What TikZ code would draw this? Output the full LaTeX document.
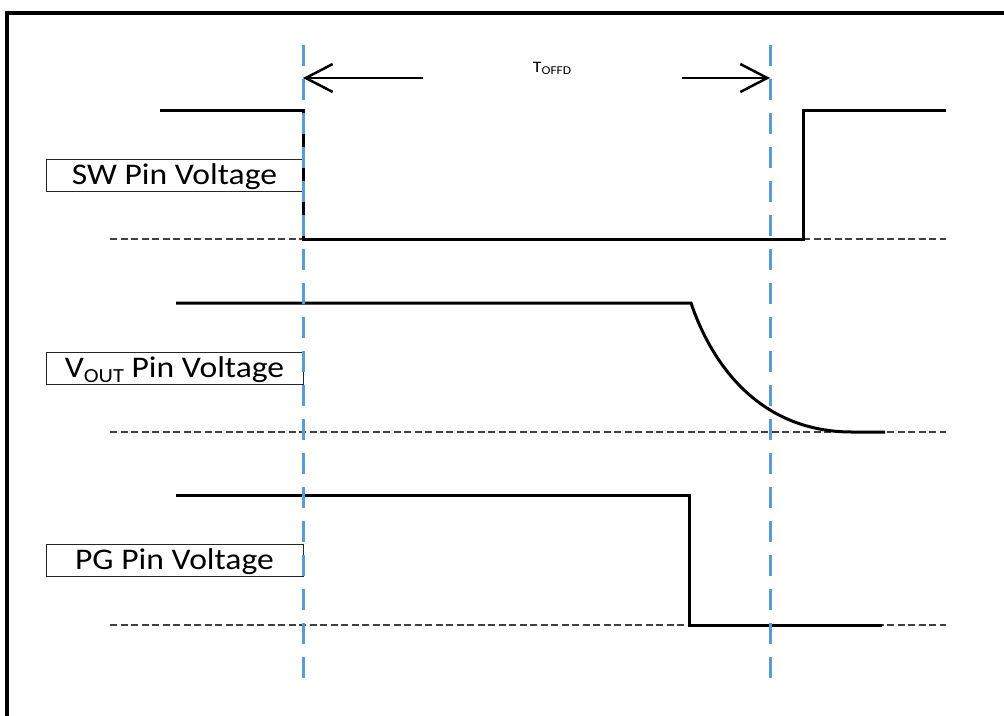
\documentclass[tikz,border=0pt]{standalone}
\usepackage{fontspec}
\setmainfont{Carlito}[FakeStretch=1.12]
\usetikzlibrary{arrows.meta}
\definecolor{mblue}{RGB}{91,155,213}
\begin{document}
\begin{tikzpicture}[x=1pt,y=-1pt,
  signal/.style={line width=3pt, line join=miter},
  zeroline/.style={line width=1.2pt, draw=black!75, dash pattern=on 7pt off 3.5pt},
  marker/.style={line width=3pt, draw=mblue, dash pattern=on 21pt off 13pt},
  lblbox/.style={draw=black!85, line width=1pt, minimum width=257pt, minimum height=32pt,
    inner sep=0pt, text height=19.5pt, text depth=0pt, font=\fontsize{30}{36}\selectfont},
  dimarrow/.style={line width=2.5pt, -{Straight Barb[length=27pt,width=28pt]}},
  frameline/.style={line width=3.5pt}
]
\useasboundingbox (0,0) rectangle (1004,715);

% zero lines
\coordinate (z1a) at (110,239); \coordinate (z1b) at (946,239);
\coordinate (z2a) at (110,432); \coordinate (z2b) at (946,432);
\coordinate (z3a) at (110,625); \coordinate (z3b) at (946,625);
\draw[zeroline] (z1a) -- (z1b);
\draw[zeroline] (z2a) -- (z2b);
\draw[zeroline] (z3a) -- (z3b);

% label boxes
\node[lblbox] (swlbl) at (174.5,175) {SW Pin Voltage};
\node[lblbox] (voutlbl) at (174.5,368) {V\raisebox{-5pt}{\fontsize{20}{24}\selectfont OUT} Pin Voltage};
\node[lblbox] (pglbl) at (174.5,560) {PG Pin Voltage};

% SW signal
\coordinate (sw0) at (160,110); \coordinate (sw1) at (303,110);
\coordinate (sw2) at (303,239); \coordinate (sw3) at (803,239);
\coordinate (sw4) at (803,110); \coordinate (sw5) at (946,110);
\draw[signal] (sw0) -- (sw1) -- (sw2) -- (sw3) -- (sw4) -- (sw5);

% VOUT signal
\coordinate (vo0) at (176,303); \coordinate (vo1) at (691,303);
\coordinate (vo2) at (852,432); \coordinate (vo3) at (885,432);
\draw[signal] (vo0) -- (vo1) .. controls (712,365) and (760,432) .. (vo2) -- (vo3);

% PG signal
\coordinate (pg0) at (176,495); \coordinate (pg1) at (689,495);
\coordinate (pg2) at (689,625); \coordinate (pg3) at (882,625);
\draw[signal] (pg0) -- (pg1) -- (pg2) -- (pg3);

% blue markers
\coordinate (m1t) at (303,45); \coordinate (m1b) at (303,679);
\coordinate (m2t) at (770,45); \coordinate (m2b) at (770,679);
\draw[marker] (m1t) -- (m1b);
\draw[marker] (m2t) -- (m2b);

% dimension arrow
\coordinate (a1) at (303,78); \coordinate (a2) at (770,78);
\coordinate (g1) at (423,78); \coordinate (g2) at (682,78);
\draw[dimarrow] (g1) -- (a1);
\draw[dimarrow] (g2) -- (a2);
\node[anchor=base, inner sep=0pt, font=\fontsize{16}{18}\selectfont] (toffd) at (552,72)
  {T\raisebox{-2.3pt}{\fontsize{12}{14}\selectfont OFFD}};

% frame
\coordinate (f0) at (7,720); \coordinate (f1) at (7,13); \coordinate (f2) at (1010,13);
\draw[frameline] (f0) -- (f1) -- (f2);
\end{tikzpicture}
\end{document}
